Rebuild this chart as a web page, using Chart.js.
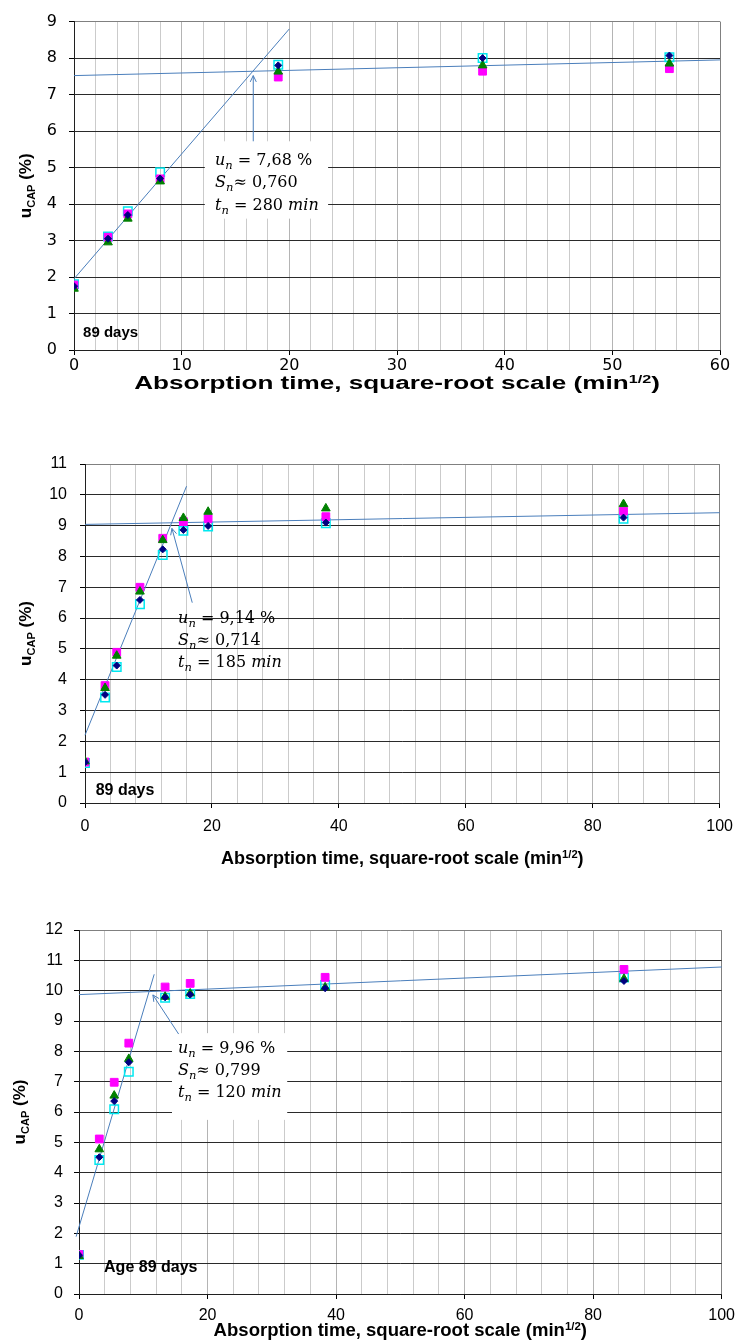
<!DOCTYPE html>
<html>
<head>
<meta charset="utf-8">
<script src="https://cdn.jsdelivr.net/npm/chart.js@4.4.1/dist/chart.umd.min.js"></script>
<style>
  html, body { margin: 0; padding: 0; background: #fff; }
  #wrap { position: relative; width: 742px; height: 1341px; }
  canvas { position: absolute; left: 0; }
</style>
</head>
<body>
<div id="wrap">
  <canvas id="c1" width="742" height="400" style="top:0px"></canvas>
  <canvas id="c2" width="742" height="440" style="top:440px"></canvas>
  <canvas id="c3" width="742" height="461" style="top:880px"></canvas>
</div>
<script>
// ---- panel 1 data (sqrt of absorption time, moisture content %)
const sqrtT1 = [0, 3.16, 5, 8, 18.97, 37.95, 55.3];
const navy1 = [1.75, 3.05, 3.70, 4.70, 7.80, 8.00, 8.07];
const magenta1 = [1.78, 3.09, 3.73, 4.69, 7.48, 7.64, 7.71];
const green1 = [1.68, 2.95, 3.60, 4.62, 7.63, 7.80, 7.85];
const cyan1 = [1.80, 3.11, 3.80, 4.87, 7.82, 8.00, 8.02];
const steepX1 = [0, 20];
const steepY1 = [1.95, 8.8];
const flatX1 = [0, 60];
const flatY1 = [7.52, 7.95];
const xLabels1 = [0, 10, 20, 30, 40, 50, 60];
const yLabels1 = [0, 1, 2, 3, 4, 5, 6, 7, 8, 9];
const fitText1 = ["7,68", "0,760", "280"];
const dayText1 = "89 days";

// ---- panel 2 data
const sqrtT2 = [0, 3.16, 5, 8.66, 12.25, 15.5, 19.4, 37.95, 84.85];
const navy2 = [1.32, 3.51, 4.46, 6.59, 8.23, 8.86, 8.99, 9.10, 9.26];
const magenta2 = [1.33, 3.81, 4.89, 7.00, 8.59, 9.13, 9.22, 9.29, 9.47];
const green2 = [1.35, 3.73, 4.78, 6.86, 8.53, 9.25, 9.45, 9.56, 9.70];
const cyan2 = [1.30, 3.42, 4.41, 6.45, 8.05, 8.83, 8.97, 9.08, 9.22];
const steepX2 = [0, 16];
const steepY2 = [2.2, 10.28];
const flatX2 = [0, 100];
const flatY2 = [9.04, 9.42];
const xLabels2 = [0, 20, 40, 60, 80, 100];
const yLabels2 = [0, 1, 2, 3, 4, 5, 6, 7, 8, 9, 10, 11];
const fitText2 = ["9,14", "0,714", "185"];
const dayText2 = "89 days";

// ---- panel 3 data
const sqrtT3 = [0, 3.16, 5.48, 7.75, 13.4, 17.3, 38.3, 84.8];
const navy3 = [1.28, 4.51, 6.36, 7.64, 9.78, 9.87, 10.08, 10.32];
const magenta3 = [1.30, 5.11, 6.98, 8.27, 10.12, 10.24, 10.44, 10.70];
const green3 = [1.25, 4.77, 6.54, 7.75, 9.80, 9.91, 10.11, 10.39];
const cyan3 = [1.29, 4.42, 6.09, 7.33, 9.77, 9.89, 10.19, 10.43];
const steepX3 = [-0.45, 11.7];
const steepY3 = [1.89, 10.54];
const flatX3 = [0, 100];
const flatY3 = [9.87, 10.78];
const xLabels3 = [0, 20, 40, 60, 80, 100];
const yLabels3 = [0, 1, 2, 3, 4, 5, 6, 7, 8, 9, 10, 11, 12];
const fitText3 = ["9,96", "0,799", "120"];
const dayText3 = "Age 89 days";

const xTitle = "Absorption time, square-root scale (min";
const xTitleSup = "1/2";

const SANS = '"Liberation Sans", Arial, sans-serif';
const WIDE_SANS = '"DejaVu Sans", "Liberation Sans", sans-serif';
const SERIF = '"DejaVu Serif", "Liberation Serif", serif';
const LINE_BLUE = "#4a7ebb";

Chart.defaults.font.family = SANS;
Chart.defaults.color = "#000";

const pts = (xs, ys) => xs.map((x, i) => ({ x, y: ys[i] }));

function drawParts(ctx, x, y, parts, size) {
  let cx = x;
  parts.forEach(([txt, style]) => {
    const sub = style.includes("sub");
    const it = style.includes("i");
    const fs = sub ? size * 0.72 : size;
    ctx.font = `${it ? "italic " : ""}${fs}px ${SERIF}`;
    ctx.fillText(txt, cx, y + (sub ? size * 0.25 : 0));
    cx += ctx.measureText(txt).width;
  });
}

function overlay(p) {
  return {
    id: "overlay",
    beforeDatasetsDraw(chart) {
      if (!p.box) return;
      const { x, y } = chart.scales;
      const ctx = chart.ctx;
      const x0 = x.getPixelForValue(p.box[0]);
      const x1 = x.getPixelForValue(p.box[1]);
      const y0 = y.getPixelForValue(p.box[2]);
      const y1 = y.getPixelForValue(p.box[3]);
      ctx.save();
      ctx.fillStyle = "#fff";
      ctx.fillRect(x0, y1, x1 - x0, y0 - y1);
      ctx.restore();
    },
    afterDatasetsDraw(chart) {
      const { x, y } = chart.scales;
      const ctx = chart.ctx;
      ctx.save();

      // arrow pointing at the knee point
      const ax0 = x.getPixelForValue(p.arrow[0]);
      const ay0 = y.getPixelForValue(p.arrow[1]);
      const ax1 = x.getPixelForValue(p.arrow[2]);
      const ay1 = y.getPixelForValue(p.arrow[3]);
      const ang = Math.atan2(ay1 - ay0, ax1 - ax0);
      ctx.strokeStyle = LINE_BLUE;
      ctx.lineWidth = 1;
      ctx.beginPath();
      ctx.moveTo(ax0, ay0);
      ctx.lineTo(ax1, ay1);
      [0.45, -0.45].forEach((d) => {
        ctx.moveTo(ax1, ay1);
        ctx.lineTo(ax1 - 7 * Math.cos(ang + d), ay1 - 7 * Math.sin(ang + d));
      });
      ctx.stroke();

      // fit results
      const tx = x.getPixelForValue(p.text[0]);
      const ty = y.getPixelForValue(p.text[1]);
      ctx.fillStyle = "#000";
      ctx.textBaseline = "alphabetic";
      ctx.textAlign = "left";
      drawParts(ctx, tx, ty, [["u", "i"], ["n", "i sub"], [` = ${p.fit[0]} %`, ""]], 16);
      drawParts(ctx, tx, ty + p.lineGap, [["S", "i"], ["n", "i sub"], [`≈ ${p.fit[1]}`, ""]], 16);
      drawParts(ctx, tx, ty + 2 * p.lineGap, [["t", "i"], ["n", "i sub"], [` = ${p.fit[2]} `, ""], ["min", "i"]], 16);

      // age label
      ctx.font = `bold ${p.daySize}px ${SANS}`;
      ctx.textBaseline = "middle";
      ctx.fillText(p.day, x.getPixelForValue(p.dayAt[0]), y.getPixelForValue(p.dayAt[1]));
      ctx.restore();
    },
    afterDraw(chart) {
      const ctx = chart.ctx;
      const area = chart.chartArea;
      ctx.save();
      ctx.fillStyle = "#000";
      ctx.textBaseline = "alphabetic";
      ctx.textAlign = "left";

      // x axis title with superscript
      const s = p.xTitleSize;
      ctx.save();
      ctx.translate((area.left + area.right) / 2, 0);
      ctx.scale(p.xTitleStretch, 1);
      ctx.font = `bold ${s}px ${SANS}`;
      const w1 = ctx.measureText(xTitle).width;
      const w3 = ctx.measureText(")").width;
      ctx.font = `bold ${s * 0.62}px ${SANS}`;
      const w2 = ctx.measureText(xTitleSup).width;
      let cx = -(w1 + w2 + w3) / 2;
      const base = p.xTitleY + s * 0.36;
      ctx.font = `bold ${s}px ${SANS}`;
      ctx.fillText(xTitle, cx, base);
      cx += w1;
      ctx.font = `bold ${s * 0.62}px ${SANS}`;
      ctx.fillText(xTitleSup, cx, base - s * 0.38);
      cx += w2;
      ctx.font = `bold ${s}px ${SANS}`;
      ctx.fillText(")", cx, base);
      ctx.restore();

      // y axis title u_CAP (%)
      const ys = p.yTitleSize;
      ctx.translate(p.yTitleX, (area.top + area.bottom) / 2);
      ctx.rotate(-Math.PI / 2);
      ctx.font = `bold ${ys}px ${SANS}`;
      const a = ctx.measureText("u").width;
      const c = ctx.measureText(" (%)").width;
      ctx.font = `bold ${ys * 0.65}px ${SANS}`;
      const b = ctx.measureText("CAP").width;
      let px = -(a + b + c) / 2;
      const pb = ys * 0.36;
      ctx.font = `bold ${ys}px ${SANS}`;
      ctx.fillText("u", px, pb);
      px += a;
      ctx.font = `bold ${ys * 0.65}px ${SANS}`;
      ctx.fillText("CAP", px, pb + ys * 0.22);
      px += b;
      ctx.font = `bold ${ys}px ${SANS}`;
      ctx.fillText(" (%)", px, pb);
      ctx.restore();
    },
  };
}

function makePanel(id, p) {
  const markers = [
    { label: "Specimen 1", ys: p.navy, pointStyle: "rectRot", radius: 3.5, bg: "#000080", border: "#000080", bw: 1 },
    { label: "Specimen 3", ys: p.green, pointStyle: "triangle", radius: 5, bg: "#008000", border: "#008000", bw: 1 },
    { label: "Specimen 2", ys: p.magenta, pointStyle: "rect", radius: 5.5, bg: "#ff00ff", border: "#ff00ff", bw: 1 },
    { label: "Specimen 4", ys: p.cyan, pointStyle: "rect", radius: 6, bg: "rgba(255,255,255,0)", border: "#00e8f0", bw: 1.5 },
  ];
  const datasets = markers.map((m) => ({
    label: m.label,
    data: pts(p.xs, m.ys),
    pointStyle: m.pointStyle,
    pointRadius: m.radius,
    pointBackgroundColor: m.bg,
    pointBorderColor: m.border,
    pointBorderWidth: m.bw,
    showLine: false,
  }));
  [[p.steepX, p.steepY, "Capillary stage"], [p.flatX, p.flatY, "Saturation stage"]].forEach(([xs, ys, label]) => {
    datasets.push({
      label,
      data: pts(xs, ys),
      showLine: true,
      borderColor: LINE_BLUE,
      borderWidth: 1,
      pointRadius: 0,
      clip: false,
    });
  });

  const xGrid = [];
  for (let v = 0; v <= p.xMax + 1e-9; v += p.xStep) xGrid.push(v);
  const tickFont = { size: p.tickSize, family: p.tickFamily };

  new Chart(document.getElementById(id), {
    type: "scatter",
    data: { datasets },
    options: {
      responsive: false,
      animation: false,
      layout: { padding: { left: 0, top: p.area.top, right: 742 - p.area.right, bottom: 0 } },
      plugins: { legend: { display: false }, tooltip: { enabled: false } },
      scales: {
        x: {
          type: "linear",
          min: 0,
          max: p.xMax,
          afterBuildTicks: (s) => { s.ticks = xGrid.map((v) => ({ value: v })); },
          afterFit: (s) => { s.height = p.canvasH - p.area.bottom; },
          ticks: {
            autoSkip: false,
            maxRotation: 0,
            padding: p.xPad,
            font: tickFont,
            callback: (v) => (p.xLabels.includes(v) ? String(v) : ""),
          },
          grid: {
            tickLength: 5,
            color: (c) => (c.tick.value === p.xMax ? "#808080" : p.xLabels.includes(c.tick.value) ? "#b4b4b4" : "#cbcbcb"),
            tickColor: (c) => (p.xLabels.includes(c.tick.value) ? "#000" : "rgba(0,0,0,0)"),
          },
          border: { color: "#202020" },
        },
        y: {
          type: "linear",
          min: 0,
          max: p.yLabels[p.yLabels.length - 1],
          afterBuildTicks: (s) => { s.ticks = p.yLabels.map((v) => ({ value: v })); },
          afterFit: (s) => { s.width = p.area.left; },
          ticks: { padding: p.yPad, font: tickFont },
          grid: {
            tickLength: 5,
            color: (c) => (c.tick.value === p.yLabels[p.yLabels.length - 1] ? "#808080" : "#2a2a2a"),
            tickColor: "#000",
          },
          border: { color: "#202020" },
        },
      },
    },
    plugins: [overlay(p)],
  });
}

window.addEventListener("DOMContentLoaded", () => {
  makePanel("c1", {
    xs: sqrtT1, navy: navy1, magenta: magenta1, green: green1, cyan: cyan1,
    steepX: steepX1, steepY: steepY1, flatX: flatX1, flatY: flatY1,
    xLabels: xLabels1, yLabels: yLabels1, fit: fitText1, day: dayText1,
    canvasH: 400, area: { left: 74, right: 720, top: 13, bottom: 350 },
    xMax: 60, xStep: 2, tickSize: 16, tickFamily: WIDE_SANS, xPad: 1, yPad: 12,
    xTitleY: 383, xTitleSize: 18, xTitleStretch: 1.45, yTitleX: 25, yTitleSize: 17,
    box: [12.15, 23.6, 3.6, 5.72], text: [13.1, 5.07], lineGap: 22.3,
    arrow: [16.65, 5.72, 16.65, 7.52], dayAt: [0.84, 0.48], daySize: 15,
  });
  makePanel("c2", {
    xs: sqrtT2, navy: navy2, magenta: magenta2, green: green2, cyan: cyan2,
    steepX: steepX2, steepY: steepY2, flatX: flatX2, flatY: flatY2,
    xLabels: xLabels2, yLabels: yLabels2, fit: fitText2, day: dayText2,
    canvasH: 440, area: { left: 85, right: 721, top: 24, bottom: 363 },
    xMax: 100, xStep: 4, tickSize: 16, tickFamily: SANS, xPad: 9, yPad: 13,
    xTitleY: 418, xTitleSize: 18, xTitleStretch: 1.0, yTitleX: 25, yTitleSize: 17,
    box: null, text: [14.67, 5.83], lineGap: 21.7,
    arrow: [16.9, 6.5, 13.7, 8.91], dayAt: [1.68, 0.41], daySize: 16,
  });
  makePanel("c3", {
    xs: sqrtT3, navy: navy3, magenta: magenta3, green: green3, cyan: cyan3,
    steepX: steepX3, steepY: steepY3, flatX: flatX3, flatY: flatY3,
    xLabels: xLabels3, yLabels: yLabels3, fit: fitText3, day: dayText3,
    canvasH: 461, area: { left: 79, right: 725, top: 50, bottom: 414 },
    xMax: 100, xStep: 4, tickSize: 16, tickFamily: SANS, xPad: 7, yPad: 11,
    xTitleY: 450, xTitleSize: 18, xTitleStretch: 1.03, yTitleX: 19, yTitleSize: 17,
    box: [14.47, 32.4, 5.74, 8.6], text: [15.4, 7.94], lineGap: 22,
    arrow: [15.5, 8.57, 11.5, 9.86], dayAt: [3.9, 0.87], daySize: 16,
  });
});
</script>
</body>
</html>
